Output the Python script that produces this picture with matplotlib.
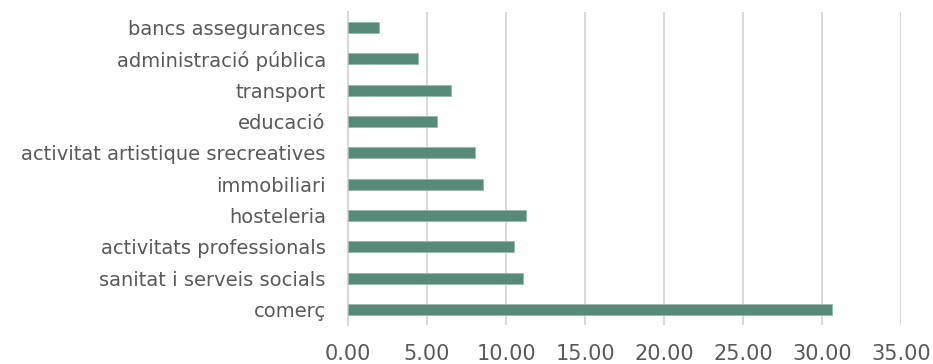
import matplotlib.pyplot as plt

categories = ['bancs assegurances', 'administració pública', 'transport', 'educació',
              'activitat artistique srecreatives', 'immobiliari', 'hosteleria',
              'activitats professionals', 'sanitat i serveis socials', 'comerç']
values = [1.96, 4.41, 6.51, 5.62, 8.03, 8.56, 11.24, 10.52, 11.10, 30.63]
xticks = [0, 5, 10, 15, 20, 25, 30, 35]

plt.rcParams['font.family'] = ['DejaVu Sans']

fig = plt.figure(figsize=(9.33, 3.64), dpi=100)
ax = fig.add_axes([0.373, 0.107, 0.5927, 0.860])

pos = list(range(len(categories)))
ax.barh(pos, values, height=0.35, color='#588A7A', edgecolor='#9BB8AD', linewidth=0.6, zorder=3)

ax.set_ylim(len(categories) - 0.5, -0.5)
ax.set_xlim(0, 35)
ax.set_yticks(pos)
ax.set_yticklabels(categories, fontsize=14, color='#595959')
ax.set_xticks(xticks)
ax.set_xticklabels([f'{t:.2f}' for t in xticks], fontsize=15, color='#595959')

ax.grid(axis='x', color='#D9D9D9', linewidth=1.5, zorder=0)
for s in ['top', 'right', 'bottom']:
    ax.spines[s].set_visible(False)
ax.spines['left'].set_color('#D9D9D9')
ax.spines['left'].set_linewidth(1.5)
ax.tick_params(axis='x', length=0, pad=14)
ax.tick_params(axis='y', length=0, pad=16)

plt.savefig('out.png', dpi=100)
